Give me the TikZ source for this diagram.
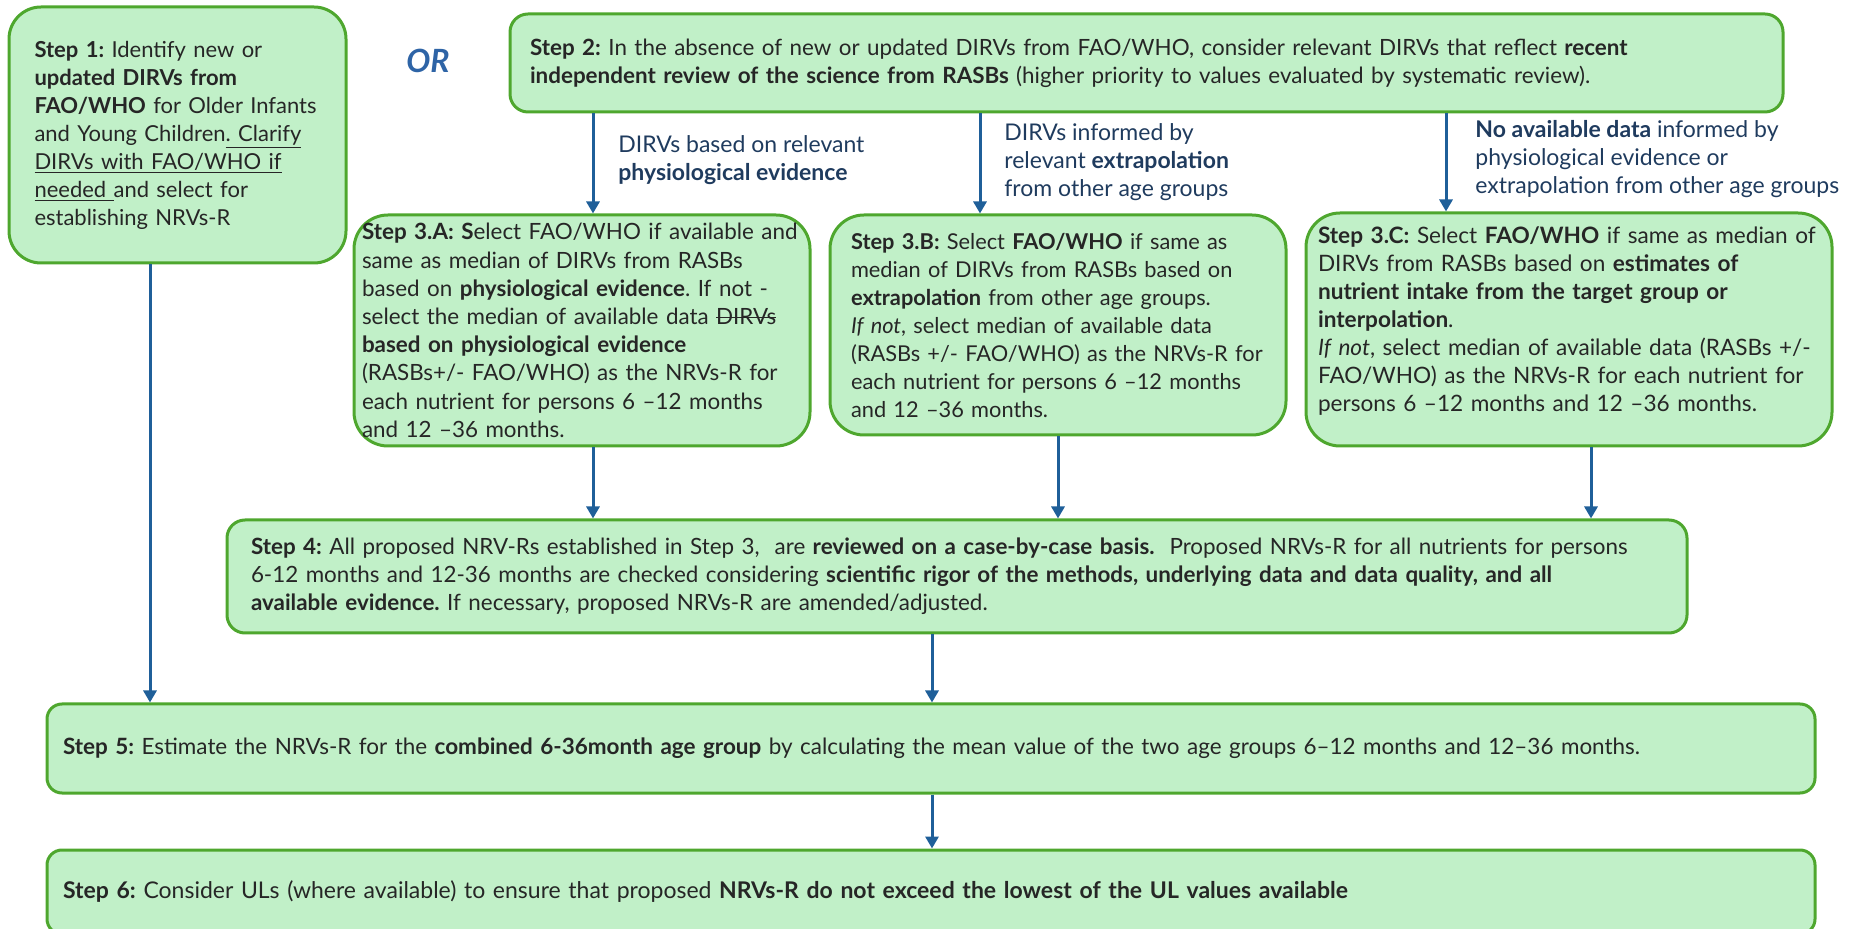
\documentclass[tikz,border=0pt]{standalone}
\usepackage{fontspec}
\setmainfont{Lato}
\frenchspacing
\usetikzlibrary{arrows.meta}
\definecolor{boxfill}{HTML}{C1F0C8}
\definecolor{boxline}{HTML}{4EA72E}
\definecolor{boxtext}{HTML}{262626}
\definecolor{arrowblue}{HTML}{1F5F99}
\definecolor{labelblue}{HTML}{1F3B5E}
\definecolor{orblue}{HTML}{2E64A6}
\newsavebox{\strkbox}
\newcommand{\strk}[1]{\sbox{\strkbox}{#1}\rlap{\rule[0.3em]{\wd\strkbox}{0.6pt}}\usebox{\strkbox}}
\begin{document}
\begin{tikzpicture}[x=0.5pt,y=-0.5pt,
    stepbox/.style={draw=boxline, fill=boxfill, line width=1.5pt, rounded corners=#1,
        align=left, text=boxtext, inner ysep=0pt},
    stepbox/.default=9pt,
    arr/.style={draw=arrowblue, line width=1.5pt, -{Triangle[width=6.5pt,length=6pt]}},
    lbl/.style={text=labelblue, align=left, anchor=west, inner sep=0pt,
        font=\fontsize{11.5}{14}\selectfont}]
\useasboundingbox (0,0) rectangle (1852,929);
% Step 1 and Step 2
\node[stepbox=16pt, text width=143pt, inner xsep=12.75pt, minimum height=128pt,
    font=\fontsize{11}{14}\selectfont] (s1) at (177.5,135)
    {\textbf{Step 1:} Identify new or\\
     \textbf{updated DIRVs from}\\
     \textbf{FAO/WHO} for Older Infants\\
     and Young Children\underline{. Clarify}\\
     \underline{DIRVs with FAO/WHO if}\\
     \underline{needed\ }and select for\\
     establishing NRVs-R};
\node[text=orblue, font=\bfseries\itshape\fontsize{16}{18}\selectfont] (or) at (428,61) {OR};
\node[stepbox, text width=616.5pt, inner xsep=10pt, minimum height=49pt,
    font=\fontsize{11.2}{14}\selectfont] (s2) at (1146.5,63)
    {\textbf{Step 2:} In the absence of new or updated DIRVs from FAO/WHO, consider relevant DIRVs that reflect \textbf{recent}\\
     \textbf{independent review of the science from RASBs} (higher priority to values evaluated by systematic review).};
% Step 3
\node[stepbox=17pt, text width=220pt, inner xsep=4pt, minimum height=115.5pt,
    font=\fontsize{11.2}{14.1}\selectfont] (s3a) at (582,330.5)
    {\textbf{Step 3.A: S}elect FAO/WHO if available and\\
     same as median of DIRVs from RASBs\\
     based on \textbf{physiological evidence}. If not -\\
     select the median of available data \strk{DIRVs}\\
     \textbf{based on physiological evidence}\\
     (RASBs+/- FAO/WHO) as the NRVs-R for\\
     each nutrient for persons 6 –12 months\\
     and 12 –36 months.};
\node[stepbox=17pt, text width=207pt, inner xsep=10.5pt, minimum height=110pt,
    font=\fontsize{10.9}{14}\selectfont] (s3b) at (1058,325)
    {\textbf{Step 3.B:} Select \textbf{FAO/WHO} if same as\\
     median of DIRVs from RASBs based on\\
     \textbf{extrapolation} from other age groups.\\
     \textit{If not}, select median of available data\\
     (RASBs +/- FAO/WHO) as the NRVs-R for\\
     each nutrient for persons 6 –12 months\\
     and 12 –36 months.};
\node[stepbox=17pt, text width=251pt, inner xsep=6pt, minimum height=116.5pt,
    font=\fontsize{11.3}{14}\selectfont] (s3c) at (1569,329.5)
    {\textbf{Step 3.C:} Select \textbf{FAO/WHO} if same as median of\\
     DIRVs from RASBs based on \textbf{estimates of}\\
     \textbf{nutrient intake from the target group or}\\
     \textbf{interpolation}.\\
     \textit{If not}, select median of available data (RASBs +/-\\
     FAO/WHO) as the NRVs-R for each nutrient for\\
     persons 6 –12 months and 12 –36 months.\\[-4pt]\mbox{}};
% labels on the arrows
\node[lbl] (l1) at (618,160) {DIRVs based on relevant\\ \textbf{physiological evidence}};
\node[lbl] (l2) at (1004,162) {DIRVs informed by\\ relevant \textbf{extrapolation}\\ from other age groups};
\node[lbl] (l3) at (1475,159) {\textbf{No available data} informed by\\ physiological evidence or\\ extrapolation from other age groups};
% Step 4 to Step 6
\node[stepbox, text width=706pt, inner xsep=12pt, minimum height=56.5pt,
    font=\fontsize{11.2}{14}\selectfont] (s4) at (957,576.5)
    {\textbf{Step 4:} All proposed NRV-Rs established in Step 3,\ \ are \textbf{reviewed on a case-by-case basis.}\ \ Proposed NRVs-R for all nutrients for persons\\
     6-12 months and 12-36 months are checked considering \textbf{scientific rigor of the methods, underlying data and data quality, and all}\\
     \textbf{available evidence.} If necessary, proposed NRVs-R are amended/adjusted.};
\node[stepbox=7.5pt, text width=868pt, inner xsep=8pt, minimum height=44.5pt,
    font=\fontsize{11.23}{14}\selectfont] (s5) at (931,748.5)
    {\textbf{Step 5:} Estimate the NRVs-R for the \textbf{combined 6-36month age group} by calculating the mean value of the two age groups 6–12 months and 12–36 months.};
\node[stepbox=7.5pt, text width=868pt, inner xsep=8pt, minimum height=42pt,
    font=\fontsize{11.5}{14}\selectfont] (s6) at (931,892)
    {\textbf{Step 6:} Consider ULs (where available) to ensure that proposed \textbf{NRVs-R do not exceed the lowest of the UL values available}};
% arrows
\coordinate (a1) at (593,0);
\coordinate (a2) at (980,0);
\coordinate (a3) at (1446,0);
\coordinate (b3) at (1591,0);
\coordinate (c) at (932,0);
\coordinate (d) at (150,0);
\draw[arr] (s2.south -| a1) -- (s3a.north -| a1);
\draw[arr] (s2.south -| a2) -- (s3b.north -| a2);
\draw[arr] (s2.south -| a3) -- (s3c.north -| a3);
\draw[arr] (s3a.south -| a1) -- (s4.north -| a1);
\draw[arr] (s3b.south) -- (s4.north -| s3b.south);
\draw[arr] (s3c.south -| b3) -- (s4.north -| b3);
\draw[arr] (s4.south -| c) -- (s5.north -| c);
\draw[arr] (s5.south -| c) -- (s6.north -| c);
\draw[arr] (s1.south -| d) -- (s5.north -| d);
\end{tikzpicture}
\end{document}
